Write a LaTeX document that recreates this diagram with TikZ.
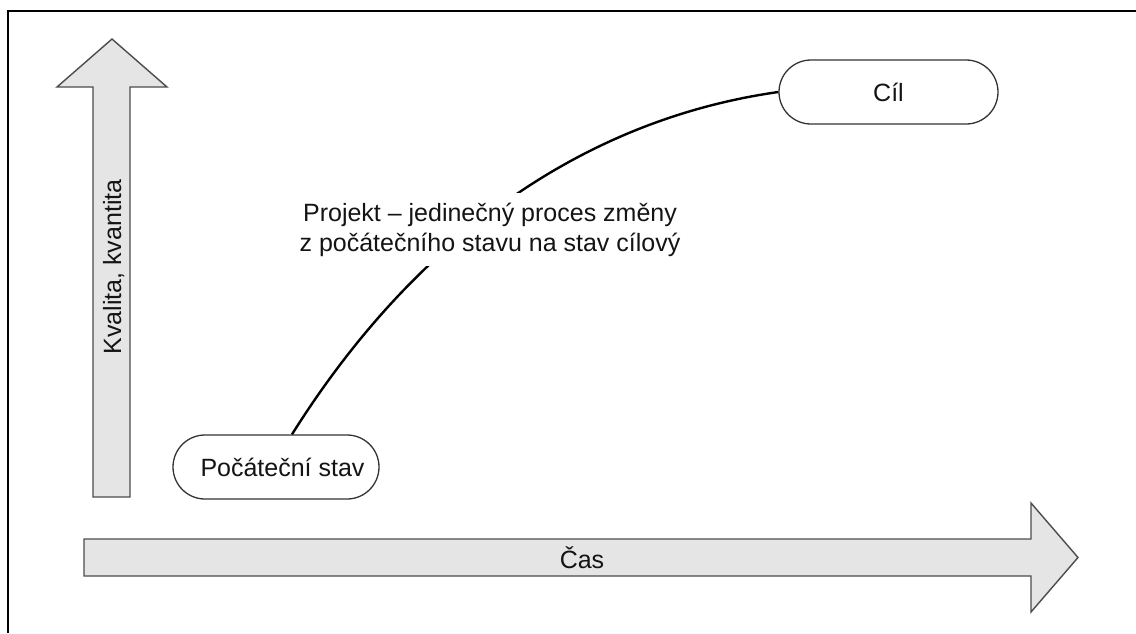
\documentclass[tikz,border=0pt]{standalone}
\usepackage{fontspec}
\setmainfont{Liberation Sans}
\begin{document}
\begin{tikzpicture}[x=1pt,y=-1pt,
  every node/.style={font=\fontsize{25}{30}\selectfont, text=black!92},
  bigarrow/.style={draw=black!70, line width=1.4pt, fill=black!10, line join=miter},
  pill/.style={draw=black!80, line width=1.3pt, fill=white, rounded corners=32pt,
               minimum height=64pt, inner sep=0pt},
  path/.style={line width=2.4pt, black}
]
\useasboundingbox (0,0) rectangle (1136,633);

% frame edges
\draw[line width=1.8pt] (8,633) -- (8,11) -- (1136,11);

% vertical axis arrow
\draw[bigarrow] (93,497) -- (93,87) -- (57,87) -- (112,39) -- (167,87) -- (130,87) -- (130,497) -- cycle;
\node[rotate=90, anchor=base] (yaxis) at (121,267) {Kvalita, kvantita};

% horizontal axis arrow
\draw[bigarrow] (84,539) -- (1031,539) -- (1031,503) -- (1078,557.5) -- (1031,612) -- (1031,576) -- (84,576) -- cycle;
\node[anchor=base] (xaxis) at (582,568) {Čas};

% states
\node[pill, minimum width=206pt] (start) at (276,467) {\hspace*{13pt}Počáteční stav};
\node[pill, minimum width=219pt] (goal) at (888.5,92) {Cíl};

% transition curve
\draw[path] ([xshift=16pt]start.north) .. controls (414,240) and (581,120) .. (goal.west);

% curve label
\node[fill=white, align=center, inner xsep=6pt, inner ysep=10pt] (label) at (490,229.5)
  {Projekt – jedinečný proces změny\\z počátečního stavu na stav cílový};
\end{tikzpicture}
\end{document}
